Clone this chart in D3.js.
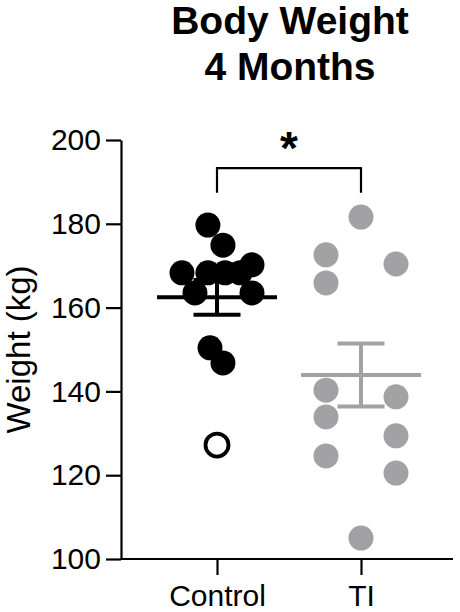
<!DOCTYPE html>
<html>
<head>
<meta charset="utf-8">
<script src="https://cdn.jsdelivr.net/npm/d3@7"></script>
<style>
  body { margin: 0; background: #fff; }
  text { font-family: "Liberation Sans", Arial, sans-serif; }
</style>
</head>
<body>
<svg id="chart"></svg>
<script>
// data
var groups = ["Control", "TI"]
var controlWeights = [179.7, 174.9, 168.3, 168.3, 168.3, 168.3, 170.2, 163.5, 163.5, 150.4, 146.8, 127.2]
var controlSlots   = [-0.26, 0.17, -1, -0.26, 0.23, 0.66, 1, -0.63, 1, -0.2, 0.17, 0]
var controlOpen    = [0, 0, 0, 0, 0, 0, 0, 0, 0, 0, 0, 1]
var tiWeights = [181.6, 172.6, 165.9, 170.4, 140.3, 133.9, 124.6, 138.7, 129.4, 120.5, 105.0]
var tiSlots   = [0, -1, -1, 1, -1, -1, -1, 1, 1, 1, 0]
var yTicks = [100, 120, 140, 160, 180, 200]
var titleLines = ["Body Weight", "4 Months"]
var yLabel = "Weight (kg)"
var sigLabel = "*"

var width = 460
var height = 612
// note: "top" is taken by window.top, so use plot* names
var plotLeft = 121, plotRight = 453, plotTop = 140, plotBottom = 559

var svg = d3.select("#chart")
  .attr("width", width)
  .attr("height", height)

var colors = { Control: "#000", TI: "#a2a2a5" }

var y = d3.scaleLinear().domain([100, 200]).range([plotBottom, plotTop])
var x = d3.scalePoint().domain(groups).range([217, 361])
var jitter = d3.scaleLinear().domain([-1, 1]).range([-35, 35])

// build the point table
var points = []
controlWeights.forEach(function(v, i) {
  points.push({ group: "Control", value: v, slot: controlSlots[i], open: controlOpen[i] == 1 })
})
tiWeights.forEach(function(v, i) {
  points.push({ group: "TI", value: v, slot: tiSlots[i], open: false })
})

// mean and SEM per group
var stats = groups.map(function(g) {
  var vals = g == "Control" ? controlWeights : tiWeights
  return { group: g, mean: d3.mean(vals), sem: d3.deviation(vals) / Math.sqrt(vals.length) }
})

// title
svg.append("g").selectAll("text")
  .data(titleLines)
  .enter()
  .append("text")
  .attr("x", 290)
  .attr("y", (d, i) => 34 + i * 46)
  .attr("text-anchor", "middle")
  .attr("font-size", 39)
  .attr("font-weight", "bold")
  .text(d => d)

// y axis
var yAxis = svg.append("g")
  .attr("transform", "translate(" + plotLeft + ",0)")
  .call(d3.axisLeft(y).tickValues(yTicks).tickSize(15).tickSizeOuter(0).tickPadding(5))
yAxis.select(".domain").attr("stroke-width", 2.2)
yAxis.selectAll(".tick line").attr("stroke-width", 2.2)
yAxis.selectAll("text").attr("font-size", 30).attr("fill", "#000").style("font-family", "'Liberation Sans', Arial, sans-serif")

// x axis
var xAxis = svg.append("g")
  .attr("transform", "translate(0," + plotBottom + ")")
  .call(d3.axisBottom(x).tickSize(16).tickSizeOuter(0).tickPadding(10))
xAxis.select(".domain").attr("d", "M" + plotLeft + ",0H" + plotRight).attr("stroke-width", 2.2)
xAxis.selectAll(".tick line").attr("stroke-width", 2.2)
xAxis.selectAll("text").attr("font-size", 30).attr("fill", "#000").style("font-family", "'Liberation Sans', Arial, sans-serif")

// y label
svg.append("text")
  .attr("transform", "translate(30," + (plotTop + plotBottom) / 2 + ") rotate(-90)")
  .attr("text-anchor", "middle")
  .attr("font-size", 33)
  .text(yLabel)

// points
svg.append("g")
  .selectAll("circle")
  .data(points)
  .enter()
  .append("circle")
  .attr("cx", d => x(d.group) + jitter(d.slot))
  .attr("cy", d => y(d.value))
  .attr("r", d => d.open ? 11.5 : 12.5)
  .attr("fill", d => d.open ? "#fff" : colors[d.group])
  .attr("stroke", d => d.open ? colors[d.group] : "none")
  .attr("stroke-width", 3.8)

// mean +/- SEM
var bars = svg.append("g")
  .selectAll("g")
  .data(stats)
  .enter()
  .append("g")
  .attr("stroke", d => colors[d.group])
  .attr("stroke-width", 4)

bars.append("line")
  .attr("x1", d => x(d.group) - 60)
  .attr("x2", d => x(d.group) + 60)
  .attr("y1", d => y(d.mean))
  .attr("y2", d => y(d.mean))
bars.append("line")
  .attr("x1", d => x(d.group))
  .attr("x2", d => x(d.group))
  .attr("y1", d => y(d.mean - d.sem))
  .attr("y2", d => y(d.mean + d.sem))
bars.selectAll(".cap")
  .data(d => [{ g: d.group, v: d.mean - d.sem }, { g: d.group, v: d.mean + d.sem }])
  .enter()
  .append("line")
  .attr("class", "cap")
  .attr("x1", d => x(d.g) - 23.5)
  .attr("x2", d => x(d.g) + 23.5)
  .attr("y1", d => y(d.v))
  .attr("y2", d => y(d.v))

// significance bracket (sits just above the top of the axis)
var bracketTop = y(193.3)
var bracketFoot = y(187.4)
svg.append("path")
  .attr("d", "M" + x("Control") + "," + bracketFoot + "V" + bracketTop + "H" + x("TI") + "V" + bracketFoot)
  .attr("fill", "none")
  .attr("stroke", "#000")
  .attr("stroke-width", 2.2)
svg.append("text")
  .attr("x", (x("Control") + x("TI")) / 2)
  .attr("y", bracketTop - 4)
  .attr("text-anchor", "middle")
  .attr("font-size", 46)
  .attr("font-weight", "bold")
  .text(sigLabel)
</script>
</body>
</html>
